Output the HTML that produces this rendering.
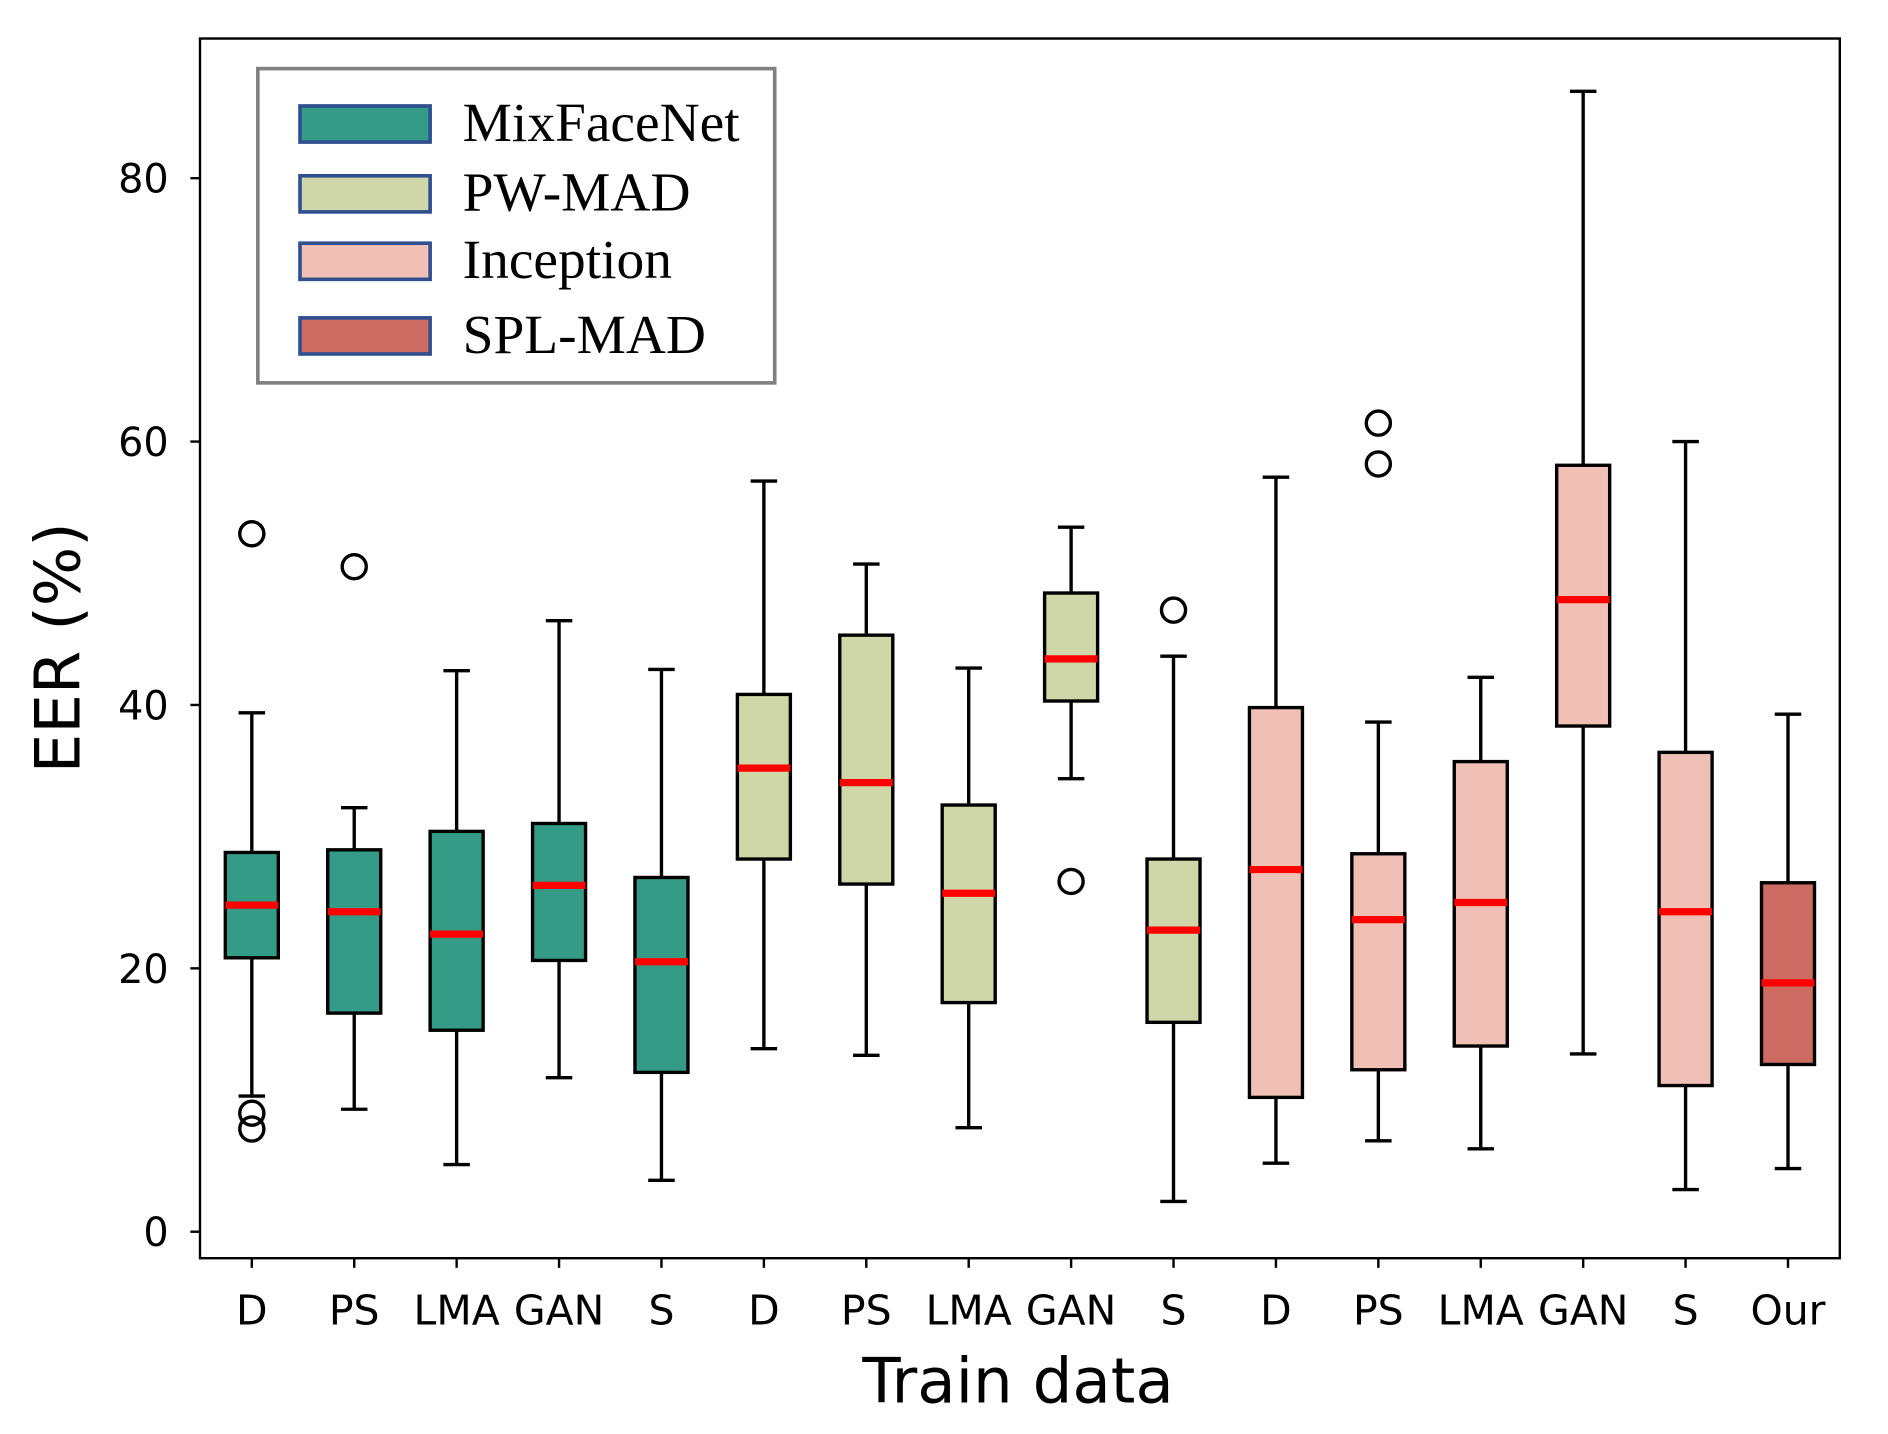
<!DOCTYPE html>
<html><head><meta charset="utf-8"><style>html,body{margin:0;padding:0;background:#fff}svg{display:block}</style></head>
<body>
<svg id="chart" width="1888" height="1434" viewBox="0 0 1567 1191" preserveAspectRatio="none" xmlns="http://www.w3.org/2000/svg" font-family="'DejaVu Sans', sans-serif">
<rect x="0" y="0" width="1567" height="1191" fill="#fff"/>
<g id="plot"></g>
<rect x="166" y="32" width="1361" height="1013" fill="none" stroke="#000" stroke-width="2"/>
<text transform="translate(66,538) rotate(-90)" text-anchor="middle" font-size="52">EER (%)</text>
<text x="845" y="1165" text-anchor="middle" font-size="52">Train data</text>
<g>
<rect x="214" y="57" width="429" height="261" fill="#fff" stroke="#808080" stroke-width="3"/>
<g id="legend-items" font-family="'Liberation Serif', serif" font-size="46"></g>
</g>
</svg>
<script>
const categories = ["D","PS","LMA","GAN","S","D","PS","LMA","GAN","S","D","PS","LMA","GAN","S","Our"];
const groups = [0,0,0,0,0,1,1,1,1,1,2,2,2,2,2,3];
const whiskerHigh = [39.4,32.2,42.6,46.4,42.7,57,50.7,42.8,53.5,43.7,57.3,38.7,42.1,86.6,60,39.3];
const q3 = [28.8,29,30.4,31,26.9,40.8,45.3,32.4,48.5,28.3,39.8,28.7,35.7,58.2,36.4,26.5];
const medians = [24.8,24.3,22.6,26.3,20.5,35.2,34.1,25.7,43.5,22.9,27.5,23.7,25,48,24.3,18.9];
const q1 = [20.8,16.6,15.3,20.6,12.1,28.3,26.4,17.4,40.3,15.9,10.2,12.3,14.1,38.4,11.1,12.7];
const whiskerLow = [10.3,9.3,5.1,11.7,3.9,13.9,13.4,7.9,34.4,2.3,5.2,6.9,6.3,13.5,3.2,4.8];
const outliers = [[53,9.0,7.8],[50.5],[],[],[],[],[],[],[26.6],[47.2],[],[61.4,58.3],[],[],[],[]];
const seriesNames = ["MixFaceNet","PW-MAD","Inception","SPL-MAD"];
const seriesColors = ["#339b86","#cfd6a8","#f0c0b6","#cd6a62"];
const yTicks = [0,20,40,60,80];

const NS="http://www.w3.org/2000/svg";
const y = v => 1023 - v*10.9375;
const x = i => 209 + i*85;
const plot = document.getElementById('plot');
function mk(tag, attrs, parent){const e=document.createElementNS(NS,tag);for(const k in attrs)e.setAttribute(k,attrs[k]);(parent||plot).appendChild(e);return e;}

yTicks.forEach(t=>{
  const g=mk('g',{});
  
  
  mk('line',{x1:158,x2:166,y1:y(t),y2:y(t),stroke:'#000','stroke-width':2},g);
  const tx=mk('text',{x:140,y:y(t)+12,'text-anchor':'end','font-size':33},g);tx.textContent=t;
});
categories.forEach((c,i)=>{
  const g=mk('g',{});
  
  
  mk('line',{x1:x(i),x2:x(i),y1:1045,y2:1053,stroke:'#000','stroke-width':2},g);
  const tx=mk('text',{x:x(i),y:1100,'text-anchor':'middle','font-size':34},g);tx.textContent=c;

  const b=mk('g',{});
  
  
  const cx=x(i), hw=22;
  mk('line',{x1:cx,x2:cx,y1:y(whiskerHigh[i]),y2:y(q3[i]),stroke:'#000','stroke-width':2.8},b);
  mk('line',{x1:cx,x2:cx,y1:y(q1[i]),y2:y(whiskerLow[i]),stroke:'#000','stroke-width':2.8},b);
  mk('line',{x1:cx-11,x2:cx+11,y1:y(whiskerHigh[i]),y2:y(whiskerHigh[i]),stroke:'#000','stroke-width':2.8},b);
  mk('line',{x1:cx-11,x2:cx+11,y1:y(whiskerLow[i]),y2:y(whiskerLow[i]),stroke:'#000','stroke-width':2.8},b);
  mk('rect',{x:cx-hw,y:y(q3[i]),width:hw*2,height:y(q1[i])-y(q3[i]),fill:seriesColors[groups[i]],stroke:'#000','stroke-width':2.8},b);
  mk('line',{x1:cx-hw,x2:cx+hw,y1:y(medians[i]),y2:y(medians[i]),stroke:'#ff0000','stroke-width':6},b);
  outliers[i].forEach(o=>{mk('circle',{cx:cx,cy:y(o),r:10,fill:'none',stroke:'#000','stroke-width':2.8},b);});
});
const lg=document.getElementById('legend-items');
const ly=[103,161,217,279];
seriesNames.forEach((n,i)=>{
  const g=mk('g',{},lg);
  
  
  mk('rect',{x:249,y:ly[i]-15,width:108,height:30,fill:seriesColors[i],stroke:'#2f4f8f','stroke-width':3},g);
  const t=mk('text',{x:384,y:ly[i]+14},g);t.textContent=n;
});
</script>
</body></html>
